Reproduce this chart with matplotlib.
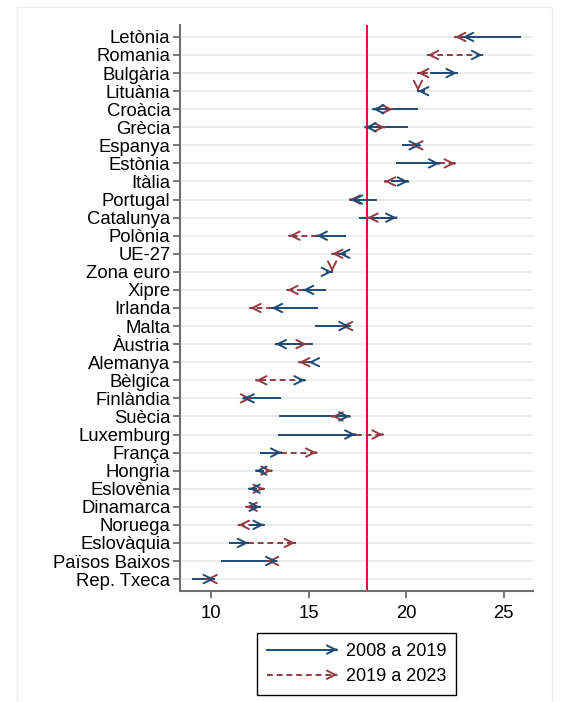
import matplotlib
matplotlib.use("Agg")
import matplotlib.pyplot as plt
from matplotlib.lines import Line2D
from matplotlib.patches import FancyArrowPatch, Rectangle
from matplotlib.legend_handler import HandlerBase

plt.rcParams['font.family'] = ['Liberation Sans', 'DejaVu Sans']

countries = ["Letònia", "Romania", "Bulgària", "Lituània", "Croàcia", "Grècia", "Espanya",
             "Estònia", "Itàlia", "Portugal", "Catalunya", "Polònia", "UE-27", "Zona euro",
             "Xipre", "Irlanda", "Malta", "Àustria", "Alemanya", "Bèlgica", "Finlàndia",
             "Suècia", "Luxemburg", "França", "Hongria", "Eslovènia", "Dinamarca", "Noruega",
             "Eslovàquia", "Països Baixos", "Rep. Txeca"]
v2008 = [25.9, 23.7, 21.2, 20.95, 20.6, 20.1, 19.8, 19.5, 19.2, 18.5, 17.6, 16.9, 16.9, 15.9,
         15.9, 15.5, 15.3, 15.2, 15.2, 14.5, 13.6, 13.5, 13.4, 12.5, 12.7, 12.35, 12.0, 12.0,
         10.9, 10.5, 9.0]
v2019 = [22.9, 23.9, 22.6, 20.6, 18.3, 17.9, 20.7, 21.7, 20.1, 17.2, 19.5, 15.4, 16.55, 16.2,
         14.7, 13.1, 17.1, 13.3, 15.0, 14.8, 11.65, 17.1, 17.4, 13.6, 12.3, 11.95, 12.5, 12.7,
         11.9, 13.35, 10.15]
v2023 = [22.5, 21.1, 20.6, 20.6, 19.3, 18.9, 20.3, 22.5, 18.9, 17.1, 18.0, 14.0, 16.2, 16.2,
         13.9, 12.0, 16.7, 14.9, 14.5, 12.3, 12.05, 16.2, 18.8, 15.4, 13.1, 12.7, 11.8, 11.4,
         14.3, 12.9, 9.75]
reference = 18.0

BLUE = "#1f4a73"
RED = "#933b44"
HEAD = "->,head_length=0.6,head_width=0.3"

fig = plt.figure(figsize=(5.75, 7.02), dpi=100)
ax = fig.add_axes([180 / 575, 1 - 591 / 702, 353 / 575, 566 / 702])

n = len(countries)
ys = [n - 1 - i for i in range(n)]


def draw_arrow(x0, x1, y, color, ls):
    if x1 != x0:
        ax.plot([x0, x1], [y, y], color=color, lw=1.4, ls=ls,
                dashes=(3, 2) if ls == "--" else (None, None),
                solid_capstyle="butt", zorder=3)
        tail = (x1 - (0.01 if x1 > x0 else -0.01), y)
    else:
        # zero-length arrow: head ends up pointing down, as in the original
        tail = (x1, y + 0.01)
    ax.annotate("", xy=(x1, y), xytext=tail,
                arrowprops=dict(arrowstyle=HEAD, color=color, lw=1.4, shrinkA=0, shrinkB=0,
                                mutation_scale=10), zorder=4)


for y, a, b, c in zip(ys, v2008, v2019, v2023):
    draw_arrow(b, c, y, RED, "--")
    draw_arrow(a, b, y, BLUE, "-")

ax.axvline(reference, color="#d0143c", lw=1.4, zorder=2)

for y in ys:
    ax.axhline(y, color="#e9eff1", lw=1.5, zorder=0)

ax.set_xlim(8.4, 26.5)
ax.set_ylim(-0.66, n - 1 + 0.66)
ax.set_xticks([10, 15, 20, 25])
ax.set_yticks(ys)
ax.set_yticklabels(countries)
ax.tick_params(axis="both", labelsize=13.3, colors="#606060", labelcolor="black", width=1.2, length=5)
ax.tick_params(axis="x", pad=5)
ax.tick_params(axis="y", pad=2)
for s in ["top", "right"]:
    ax.spines[s].set_visible(False)
for s in ["left", "bottom"]:
    ax.spines[s].set_color("#707070")
    ax.spines[s].set_linewidth(1.5)


class ArrowHandler(HandlerBase):
    def create_artists(self, legend, orig_handle, xdescent, ydescent, width, height, fontsize, trans):
        y = height / 2 - ydescent
        x0, x1 = -xdescent, width - xdescent
        ls = orig_handle.get_linestyle()
        line = Line2D([x0, x1], [y, y], color=orig_handle.get_color(), lw=1.4,
                      ls="--" if ls == "--" else "-")
        if ls == "--":
            line.set_dashes((3, 2))
        line.set_transform(trans)
        head = FancyArrowPatch((x1 - 1, y), (x1, y), arrowstyle=HEAD, color=orig_handle.get_color(),
                               lw=1.4, shrinkA=0, shrinkB=0, mutation_scale=10, transform=trans)
        return [line, head]


h1 = Line2D([], [], color=BLUE, ls="-")
h2 = Line2D([], [], color=RED, ls="--")
leg = fig.legend([h1, h2], ["2008 a 2019", "2019 a 2023"], loc="upper center",
                 bbox_to_anchor=(356.5 / 575, 1 - 633 / 702), bbox_transform=fig.transFigure,
                 handler_map={Line2D: ArrowHandler()}, fontsize=13, handlelength=3.9,
                 fancybox=False, edgecolor="black", framealpha=1, borderpad=0.55,
                 labelspacing=0.45, handletextpad=0.45, borderaxespad=0)
leg.get_frame().set_linewidth(1.0)

fig.patches.append(Rectangle((17 / 575, -0.01), 535 / 575, 1.0 - 7 / 702 + 0.01,
                             transform=fig.transFigure, fill=False, edgecolor="#ececec", lw=1.0))

fig.savefig("out.png", dpi=100)
